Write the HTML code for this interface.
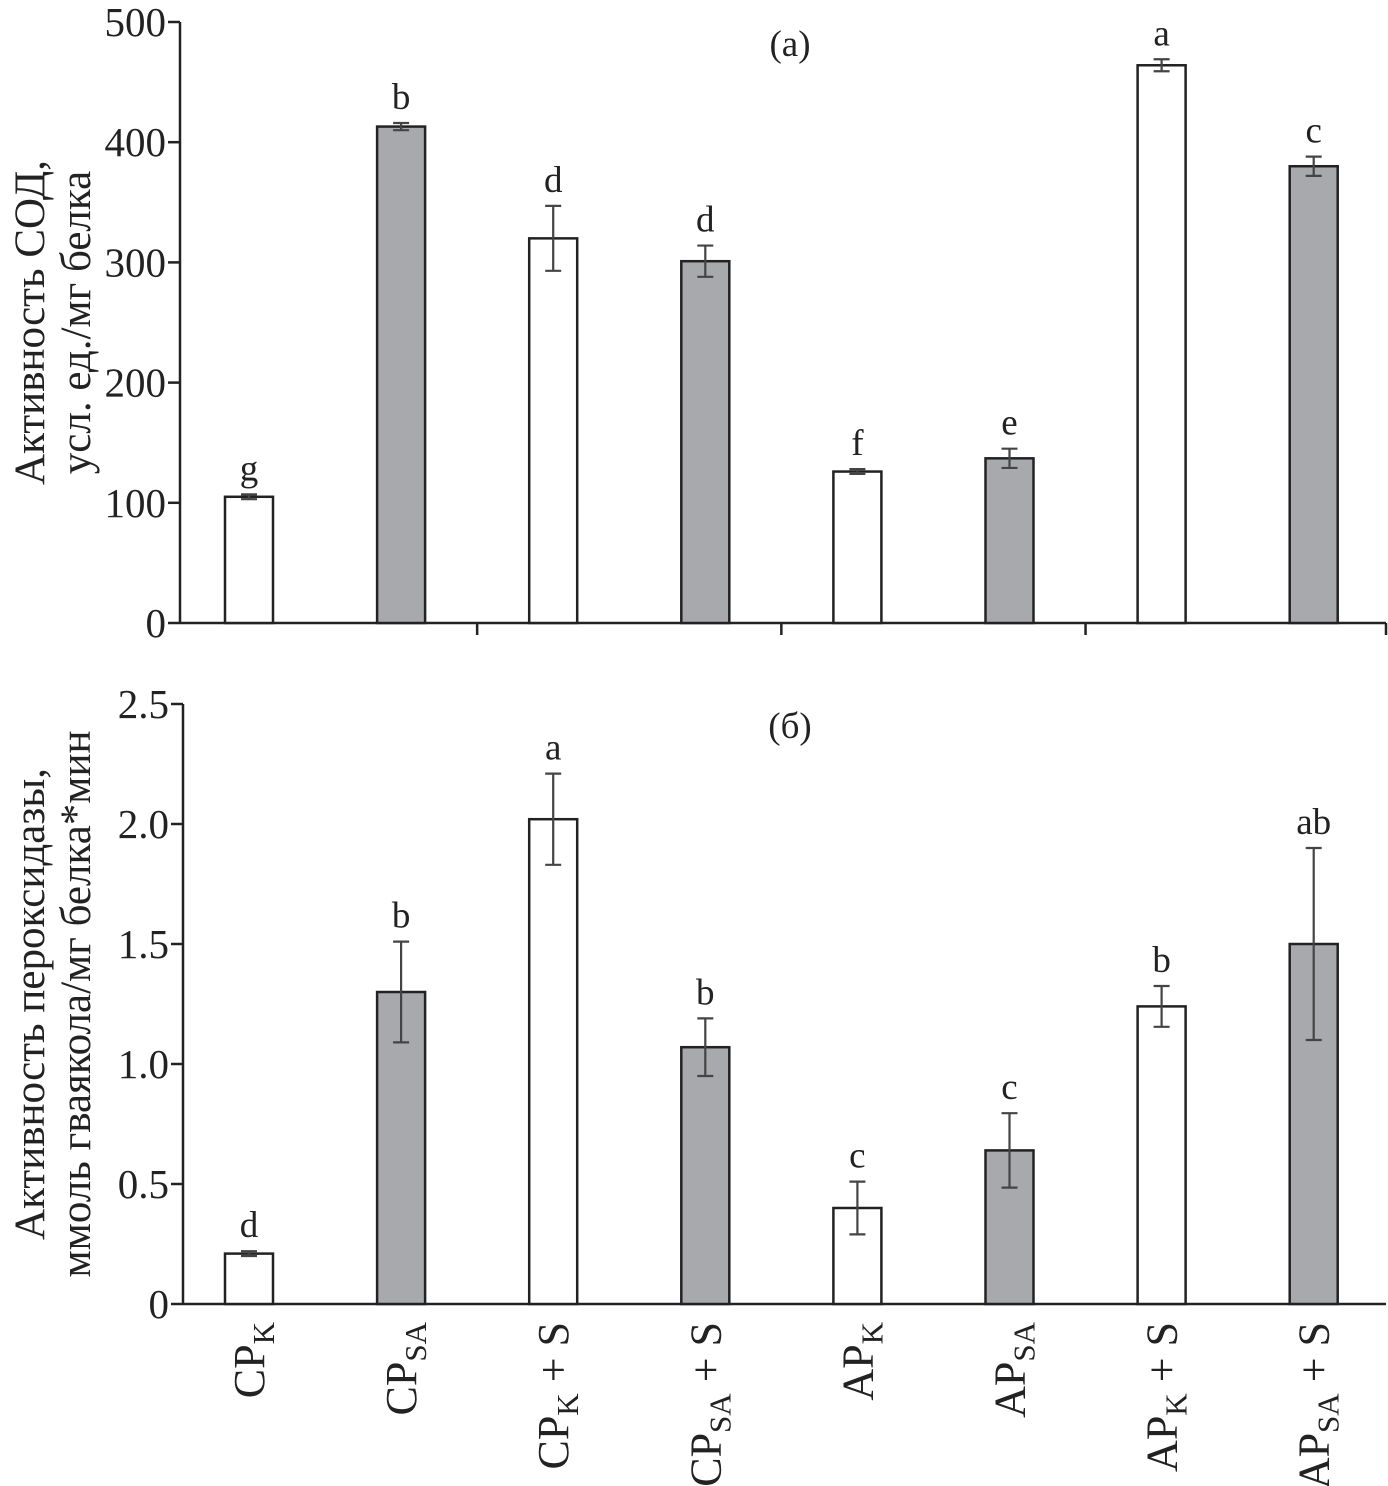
<!DOCTYPE html>
<html><head><meta charset="utf-8"><style>
body{margin:0;background:#fff}
svg{display:block;font-family:"Liberation Serif",serif}
</style></head><body>
<svg id="c" width="1388" height="1486"></svg>
<script>
const categories=["CP_K","CP_SA","CP_K + S","CP_SA + S","AP_K","AP_SA","AP_K + S","AP_SA + S"];
const fills=["#fff","#a7a9ac","#fff","#a7a9ac","#fff","#a7a9ac","#fff","#a7a9ac"];
const sodValues=[105,413,320,301,126,137,464,380];
const sodErrors=[2,3,27,13,2,8,5,8];
const sodLetters=["g","b","d","d","f","e","a","c"];
const sodTicks=[0,100,200,300,400,500];
const poxValues=[0.21,1.30,2.02,1.07,0.40,0.64,1.24,1.50];
const poxErrors=[0.01,0.21,0.19,0.12,0.11,0.155,0.085,0.40];
const poxLetters=["d","b","a","b","c","c","b","ab"];
const poxTicks=[0,0.5,1.0,1.5,2.0,2.5];
const poxTickLabels=["0","0.5","1.0","1.5","2.0","2.5"];
const NS="http://www.w3.org/2000/svg";
const svg=document.getElementById('c');
function el(t,a,p){const e=document.createElementNS(NS,t);for(const k in a)e.setAttribute(k,a[k]);(p||svg).appendChild(e);return e;}
const xc=i=>249+i*152.1;
function panel(o){
  const g=el('g',{});
  
  
  const y=v=>o.y0-(v/o.max)*(o.y0-o.y1);
  const ax=el('line',{x1:o.ax,y1:o.y1,x2:o.ax,y2:o.y0,stroke:'#222','stroke-width':2.5},g);
  
  const xa=el('line',{x1:o.ax,y1:o.y0,x2:1386,y2:o.y0,stroke:'#222','stroke-width':2.5},g);
  
  o.ticks.forEach((t,i)=>{
    el('line',{x1:o.ax-12,y1:y(t),x2:o.ax,y2:y(t),stroke:'#222','stroke-width':2.5},g);
    const tx=el('text',{x:o.ax-14,y:y(t)+14,'text-anchor':'end','font-size':41,fill:'#222'},g);
    tx.textContent=o.tickLabels?o.tickLabels[i]:t;
    
  });
  if(o.sep){[0,1,2].forEach(k=>{const sx=(xc(2*k+1)+xc(2*k+2))/2;el('line',{x1:sx,y1:o.y0,x2:sx,y2:o.y0+12,stroke:'#222','stroke-width':2.5},g);});
    el('line',{x1:1386,y1:o.y0,x2:1386,y2:o.y0+12,stroke:'#222','stroke-width':2.5},g);}
  const tt=el('text',{x:790,y:o.y1+34,'text-anchor':'middle','font-size':37,fill:'#222'},g);
  tt.textContent=o.title;
  const yl=el('text',{transform:`translate(${o.ylx},${(o.y0+o.y1)/2}) rotate(-90)`,'text-anchor':'middle','font-size':43,fill:'#222'},g);
  
  o.ylab.forEach((s,i)=>{const ts=el('tspan',{x:0,dy:i?46:0},yl);ts.textContent=s;});
  o.vals.forEach((v,i)=>{
    const x=xc(i),w=48;
    const b=el('rect',{x:x-w/2,y:y(v),width:w,height:o.y0-y(v),fill:fills[i],stroke:'#222','stroke-width':2.5},g);
    
    const hi=y(v+o.err[i]),lo=y(v-o.err[i]);
    const e=el('path',{d:`M${x},${hi}V${lo}M${x-8},${hi}H${x+8}M${x-8},${lo}H${x+8}`,stroke:'#444','stroke-width':2.2,fill:'none'},g);
    
    const l=el('text',{x:x,y:hi-14,'text-anchor':'middle','font-size':37,fill:'#222'},g);
    l.textContent=o.letters[i];
  });
}
panel({name:'sod-panel',ax:180,y0:623,y1:22,max:500,ticks:sodTicks,vals:sodValues,err:sodErrors,letters:sodLetters,title:'(a)',sep:true,ylx:44,ylab:['Активность СОД,','усл. ед./мг белка']});
panel({name:'peroxidase-panel',ax:183,y0:1304,y1:704,max:2.5,ticks:poxTicks,tickLabels:poxTickLabels,vals:poxValues,err:poxErrors,letters:poxLetters,title:'(б)',sep:false,ylx:44,ylab:['Активность пероксидазы,','ммоль гваякола/мг белка*мин']});
categories.forEach((c,i)=>{
  const parts=c.split(' + ');const [m,sub]=parts[0].split('_');
  const t=el('text',{transform:`translate(${xc(i)+15},1322) rotate(-90)`,'text-anchor':'end','font-size':44,fill:'#222'});
  
  const a=el('tspan',{},t);a.textContent=m;
  const b=el('tspan',{dy:10,'font-size':31},t);b.textContent=sub;
  if(parts[1]){const s=el('tspan',{dy:-10},t);s.textContent=' + '+parts[1];}
});
</script>
</body></html>
